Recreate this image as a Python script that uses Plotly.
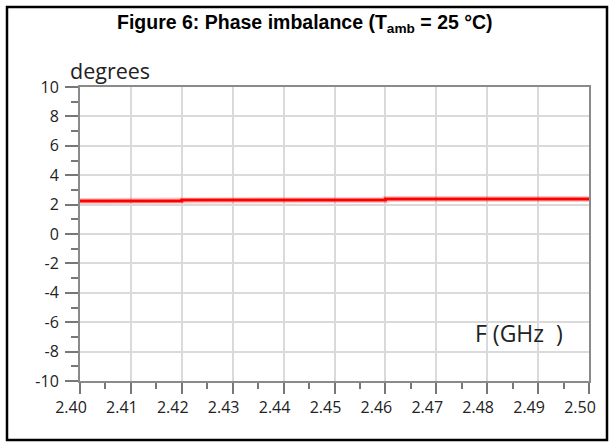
import plotly.graph_objects as go

# Data
freq_ghz = [2.40, 2.42, 2.42, 2.46, 2.46, 2.50]
phase_deg = [2.25, 2.25, 2.32, 2.32, 2.38, 2.38]
x_ticks = [2.40, 2.41, 2.42, 2.43, 2.44, 2.45, 2.46, 2.47, 2.48, 2.49, 2.50]
y_ticks = [-10, -8, -6, -4, -2, 0, 2, 4, 6, 8, 10]

W, H = 613, 446
L, R, T, B = 80, 24, 87, 65
pw, ph = W - L - R, H - T - B

def px(x):
    return (x - L) / pw

def py(y):
    return (H - B - y) / ph

fig = go.Figure()
fig.add_trace(go.Scatter(x=freq_ghz, y=phase_deg, mode="lines",
                         line=dict(color="rgba(255,0,0,0.22)", width=6),
                         hoverinfo="skip", showlegend=False))
fig.add_trace(go.Scatter(x=freq_ghz, y=phase_deg, mode="lines",
                         line=dict(color="#ff0000", width=3),
                         showlegend=False))

tickfont = dict(family="Open Sans", color="#222")
fig.update_xaxes(range=[2.40, 2.50], tickvals=x_ticks,
                 ticktext=[f"{v:.2f}" for v in x_ticks],
                 showgrid=True, gridcolor="#dadada", gridwidth=1.5,
                 showline=True, linecolor="#8a8a8a", linewidth=1.5, mirror=True,
                 ticks="outside", ticklen=11, tickwidth=1.5, tickcolor="#777",
                 minor=dict(dtick=0.005, ticks="outside", ticklen=6, tickwidth=1.5,
                            tickcolor="#777", showgrid=False),
                 tickfont=dict(size=16, **tickfont), ticklabelstandoff=0,
                 ticklabelshift=-9, zeroline=False)
fig.update_yaxes(range=[-10, 10], tickvals=y_ticks,
                 ticktext=[str(v) for v in y_ticks],
                 showgrid=True, gridcolor="#dadada", gridwidth=1.5,
                 showline=True, linecolor="#8a8a8a", linewidth=2, mirror=True,
                 ticks="outside", ticklen=13, tickwidth=1.5, tickcolor="#777",
                 minor=dict(dtick=1, ticks="outside", ticklen=7, tickwidth=1.5,
                            tickcolor="#777", showgrid=False),
                 tickfont=dict(size=16, **tickfont), ticklabelstandoff=3,
                 zeroline=False)

fig.add_shape(type="rect", xref="paper", yref="paper",
              x0=px(7), x1=px(607), y0=py(440), y1=py(7),
              line=dict(color="black", width=2.5), layer="above")

fig.add_annotation(xref="paper", yref="paper", x=px(305), y=py(23),
                   text="<b>Figure 6: Phase imbalance (T<sub>amb</sub> = 25 °C)</b>",
                   showarrow=False, xanchor="center", yanchor="middle",
                   font=dict(family="Liberation Sans", size=19.5, color="black"))
fig.add_annotation(xref="paper", yref="paper", x=px(68), y=py(70),
                   text="degrees", showarrow=False, xanchor="left", yanchor="middle",
                   font=dict(family="Open Sans", size=21.5, color="#222"))
fig.add_annotation(xref="paper", yref="paper", x=px(473), y=py(333),
                   text="F (GHz&nbsp;&nbsp;)", showarrow=False,
                   xanchor="left", yanchor="middle",
                   font=dict(family="Open Sans", size=23, color="#222"))

fig.update_layout(width=W, height=H, margin=dict(l=L, r=R, t=T, b=B),
                  paper_bgcolor="white", plot_bgcolor="white")
fig.write_html("out.html", config={"displayModeBar": False},
               post_script="document.body.style.margin='0';document.body.style.padding='0';")
